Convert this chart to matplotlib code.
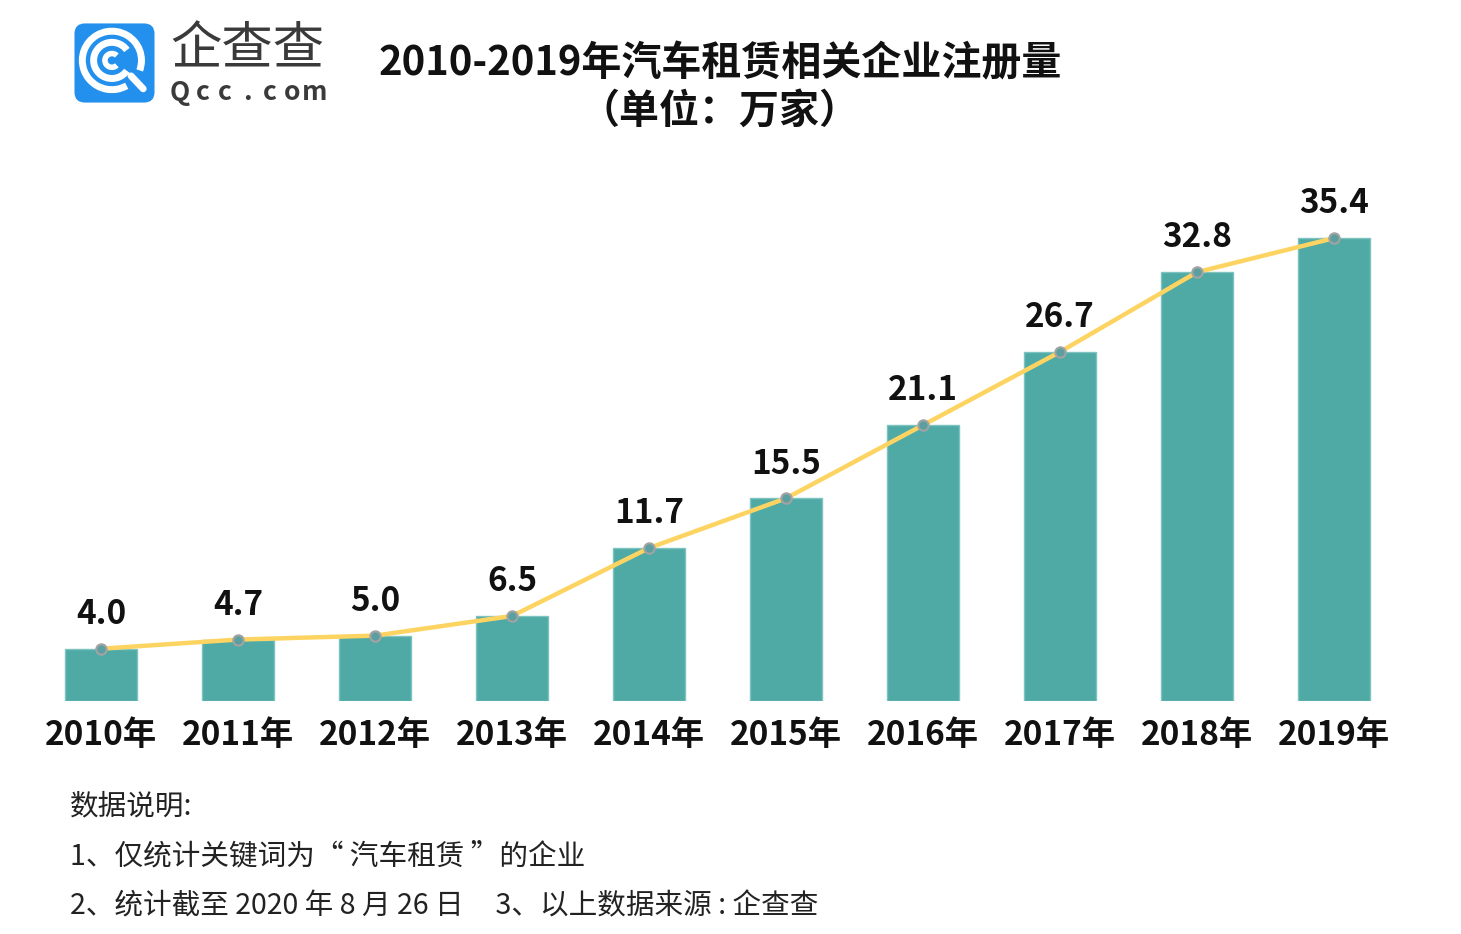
import numpy as np
import matplotlib.pyplot as plt
from matplotlib.patches import FancyBboxPatch, Arc

plt.rcParams['font.family'] = ['Noto Sans CJK SC', 'DejaVu Sans']

# data
years = ['2010年', '2011年', '2012年', '2013年', '2014年',
         '2015年', '2016年', '2017年', '2018年', '2019年']
counts = [4.0, 4.7, 5.0, 6.5, 11.7, 15.5, 21.1, 26.7, 32.8, 35.4]

title = '2010-2019年汽车租赁相关企业注册量'
subtitle = '（单位：万家）'
notes = ['数据说明:',
         '1、仅统计关键词为“ 汽车租赁 ”的企业',
         '2、统计截至 2020 年 8 月 26 日     3、以上数据来源 : 企查查']

BAR = '#4FAAA6'
LINE = '#FDD462'

fig = plt.figure(figsize=(14.61, 9.34), dpi=100)

# main chart
W, H = 1461, 934
x0, x1 = 101 - 0.6 * 137, 1334 + 0.6 * 137
ax = fig.add_axes([x0 / W, (H - 701) / H, (x1 - x0) / W, 523 / H])
x = np.arange(len(years))
ax.bar(x, counts, width=0.525, color=BAR, edgecolor='#7DC3BF', linewidth=1, zorder=2)
ax.plot(x, counts, color=LINE, lw=3.2, zorder=3, solid_capstyle='round')
ax.plot(x, counts, 'o', ms=7.5, mfc='#5B9FA0', mec='#A3A3A3', mew=1.5, zorder=4)
for xi, v in zip(x, counts):
    ax.text(xi, v + 1.35, f'{v:.1f}', ha='center', va='bottom',
            fontsize=24, fontweight='bold', color='#111111')
ax.set_xlim(-0.6, len(years) - 0.4)
ax.set_ylim(0, 40)
ax.set_xticks(x)
ax.set_xticklabels(years, fontsize=24, fontweight='bold', color='#111111')
ax.tick_params(axis='x', length=0, pad=13)
ax.set_yticks([])
for s in ax.spines.values():
    s.set_visible(False)

# title
fig.text(720 / W, 1 - 64 / H, title, ha='center', va='center',
         fontsize=28.8, fontweight='bold', color='#111111')
fig.text(720 / W, 1 - 111 / H, subtitle, ha='center', va='center',
         fontsize=28.8, fontweight='bold', color='#111111')

# notes
for i, line in enumerate(notes):
    fig.text(70 / W, 1 - (806 + 50 * i) / H, line, ha='left', va='center',
             fontsize=20.6, color='#222222')

# logo
lax = fig.add_axes([71 / W, (H - 106) / H, 87 / W, 86 / H])
lax.set_xlim(0, 1)
lax.set_ylim(0, 1)
lax.axis('off')
lax.add_patch(FancyBboxPatch((0.04, 0.04), 0.92, 0.92,
                             boxstyle='round,pad=0,rounding_size=0.12',
                             fc='#2390EE', ec='none'))
cx, cy = 0.47, 0.53
lax.add_patch(Arc((cx, cy), 0.68, 0.68, theta1=-20, theta2=300, lw=5, color='white'))
lax.add_patch(Arc((cx, cy), 0.42, 0.42, theta1=35, theta2=325, lw=5, color='white'))
lax.add_patch(Arc((cx, cy), 0.16, 0.16, theta1=45, theta2=315, lw=4, color='white'))
lax.plot([cx + 0.22, cx + 0.36], [cy - 0.18, cy - 0.33], color='white', lw=5,
         solid_capstyle='round')

fig.text(170 / W, 1 - 50 / H, '企查查', ha='left', va='center',
         fontsize=37, color='#3A3A3A')
for i, ch in enumerate('Qcc.com'):
    fig.text((180 + 22.5 * i) / W, 1 - 93 / H, ch, ha='center', va='center',
             fontsize=19, color='#3A3A3A', fontweight='bold')

fig.savefig('out.png', dpi=100, facecolor='white')
